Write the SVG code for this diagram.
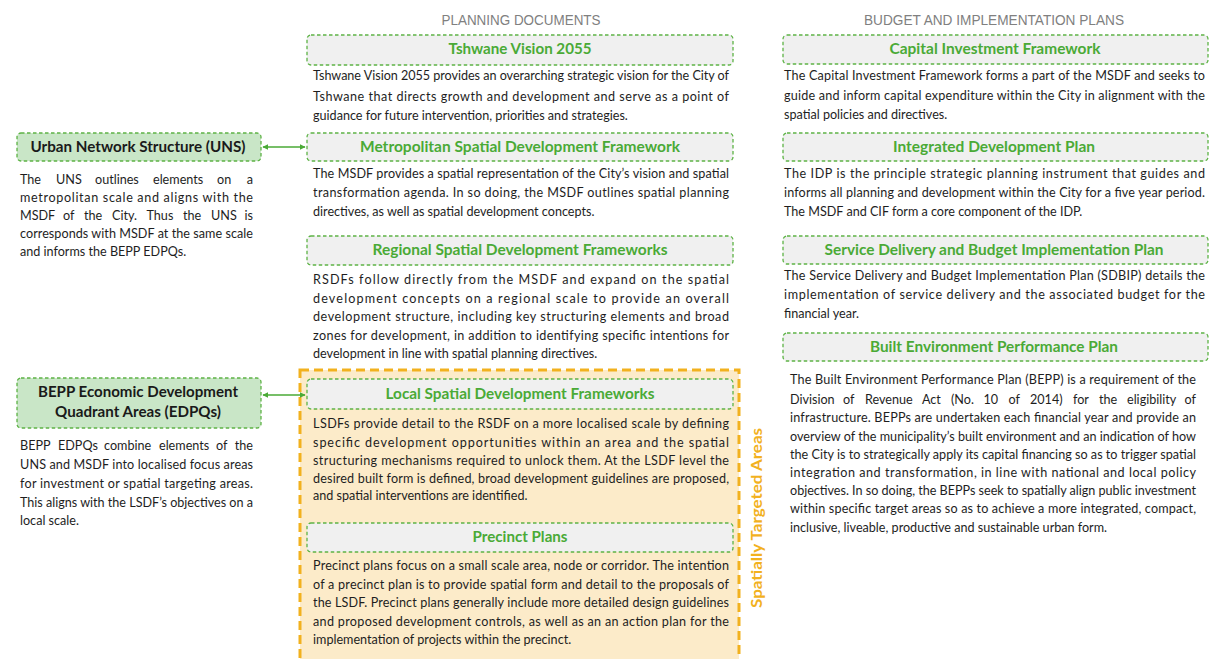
<svg xmlns="http://www.w3.org/2000/svg" width="1210" height="659" viewBox="0 0 1210 659">
<style>
.hdr{font-family:"Liberation Sans",Arial,sans-serif;font-size:14px;fill:#808080;text-anchor:middle}
.box{fill:#f0f0f0;stroke:#5db345;stroke-width:1.3;stroke-dasharray:3.5 2.5}
.gbox{fill:#c9e6c7;stroke:#5db345;stroke-width:1.3;stroke-dasharray:3.5 2.5}
.ttl{font-family:Lato,"Liberation Sans",sans-serif;font-weight:bold;font-size:14.5px;fill:#4aaa36;text-anchor:middle}
.ttd{font-family:Lato,"Liberation Sans",sans-serif;font-weight:bold;font-size:14.5px;fill:#1a1a1a;text-anchor:middle}
.bd{font-family:Lato,"Liberation Sans",sans-serif;font-size:12.6px;fill:#1e1e1e}
.e{text-anchor:end}
.conn{stroke:#4aaa36;stroke-width:1.6;fill:none}
</style>
<defs>
<marker id="ah" viewBox="0 0 10 10" refX="9" refY="5" markerWidth="6" markerHeight="6" orient="auto-start-reverse" markerUnits="userSpaceOnUse">
<path d="M0,0 L10,5 L0,10 z" fill="#4aaa36"/>
</marker>
</defs>

<text class="hdr" x="521" y="25" textLength="159" lengthAdjust="spacingAndGlyphs">PLANNING DOCUMENTS</text>
<text class="hdr" x="994" y="25" textLength="260" lengthAdjust="spacingAndGlyphs">BUDGET AND IMPLEMENTATION PLANS</text>

<g id="spatially-targeted-areas">
<rect x="300" y="370" width="439" height="300" fill="#fcebc9" stroke="#f2b11e" stroke-width="3" stroke-dasharray="9 5"/>
<text x="0" y="0" transform="translate(762,518) rotate(-90)" font-family="Lato,'Liberation Sans',sans-serif" font-weight="bold" font-size="14.5" fill="#f2b11e" text-anchor="middle" textLength="180" lengthAdjust="spacingAndGlyphs">Spatially Targeted Areas</text>
</g>

<g id="connectors">
<line class="conn" x1="263" y1="147" x2="305" y2="147" marker-start="url(#ah)" marker-end="url(#ah)"/>
<line class="conn" x1="263" y1="395" x2="305" y2="395" marker-start="url(#ah)" marker-end="url(#ah)"/>
</g>

<g id="uns">
<rect class="gbox" x="17" y="133" width="244" height="28" rx="4"/>
<text class="ttd" x="138" y="152" textLength="215" lengthAdjust="spacingAndGlyphs">Urban Network Structure (UNS)</text>
<text class="bd" y="184"><tspan x="20">The</tspan><tspan x="56">UNS</tspan><tspan x="95">outlines</tspan><tspan x="153">elements</tspan><tspan x="217">on</tspan></text>
<text class="bd e" x="253" y="184">a</text>
<text class="bd" x="20" y="202" textLength="233" lengthAdjust="spacing">metropolitan scale and aligns with the</text>
<text class="bd" y="220"><tspan x="20">MSDF</tspan><tspan x="63">of</tspan><tspan x="84">the</tspan><tspan x="112">City.</tspan><tspan x="146.5">Thus</tspan><tspan x="183">the</tspan><tspan x="211">UNS</tspan></text>
<text class="bd e" x="253" y="220">is</text>
<text class="bd" x="20" y="238" textLength="233" lengthAdjust="spacing">corresponds with MSDF at the same scale</text>
<text class="bd" x="20" y="256">and informs the BEPP EDPQs.</text>
</g>

<g id="edpq">
<rect class="gbox" x="17" y="378" width="244" height="50" rx="4"/>
<text class="ttd" x="138" y="397" textLength="200" lengthAdjust="spacingAndGlyphs">BEPP Economic Development</text>
<text class="ttd" x="138" y="417" textLength="166" lengthAdjust="spacingAndGlyphs">Quadrant Areas (EDPQs)</text>
<text class="bd" y="450"><tspan x="20">BEPP</tspan><tspan x="58">EDPQs</tspan><tspan x="104">combine</tspan><tspan x="159">elements</tspan><tspan x="216">of</tspan></text>
<text class="bd e" x="253" y="450">the</text>
<text class="bd" x="20" y="469" textLength="233" lengthAdjust="spacing">UNS and MSDF into localised focus areas</text>
<text class="bd" x="20" y="488" textLength="233" lengthAdjust="spacing">for investment or spatial targeting areas.</text>
<text class="bd" x="20" y="507" textLength="233" lengthAdjust="spacing">This aligns with the LSDF’s objectives on a</text>
<text class="bd" x="20" y="525">local scale.</text>
</g>

<g id="tshwane-vision">
<rect class="box" x="307" y="35" width="426" height="30" rx="4"/>
<text class="ttl" x="520" y="54" textLength="143" lengthAdjust="spacingAndGlyphs">Tshwane Vision 2055</text>
<text class="bd" x="313" y="80" textLength="416" lengthAdjust="spacing">Tshwane Vision 2055 provides an overarching strategic vision for the City of</text>
<text class="bd" x="313" y="101" textLength="416" lengthAdjust="spacing">Tshwane that directs growth and development and serve as a point of</text>
<text class="bd" x="313" y="120">guidance for future intervention, priorities and strategies.</text>
</g>

<g id="msdf">
<rect class="box" x="307" y="133" width="426" height="28" rx="4"/>
<text class="ttl" x="520" y="152" textLength="320" lengthAdjust="spacingAndGlyphs">Metropolitan Spatial Development Framework</text>
<text class="bd" x="313" y="178" textLength="416" lengthAdjust="spacing">The MSDF provides a spatial representation of the City’s vision and spatial</text>
<text class="bd" x="313" y="197" textLength="416" lengthAdjust="spacing">transformation agenda. In so doing, the MSDF outlines spatial planning</text>
<text class="bd" x="313" y="216">directives, as well as spatial development concepts.</text>
</g>

<g id="rsdf">
<rect class="box" x="307" y="236" width="426" height="29" rx="4"/>
<text class="ttl" x="520" y="255" textLength="295" lengthAdjust="spacingAndGlyphs">Regional Spatial Development Frameworks</text>
<text class="bd" x="313" y="284" textLength="416" lengthAdjust="spacing">RSDFs follow directly from the MSDF and expand on the spatial</text>
<text class="bd" x="313" y="303" textLength="416" lengthAdjust="spacing">development concepts on a regional scale to provide an overall</text>
<text class="bd" x="313" y="321" textLength="416" lengthAdjust="spacing">development structure, including key structuring elements and broad</text>
<text class="bd" x="313" y="340" textLength="416" lengthAdjust="spacing">zones for development, in addition to identifying specific intentions for</text>
<text class="bd" x="313" y="358">development in line with spatial planning directives.</text>
</g>

<g id="lsdf">
<rect class="box" x="307" y="379" width="426" height="30" rx="4"/>
<text class="ttl" x="520" y="399" textLength="269" lengthAdjust="spacingAndGlyphs">Local Spatial Development Frameworks</text>
<text class="bd" x="313" y="428" textLength="416" lengthAdjust="spacing">LSDFs provide detail to the RSDF on a more localised scale by defining</text>
<text class="bd" x="313" y="447" textLength="416" lengthAdjust="spacing">specific development opportunities within an area and the spatial</text>
<text class="bd" x="313" y="465" textLength="416" lengthAdjust="spacing">structuring mechanisms required to unlock them. At the LSDF level the</text>
<text class="bd" x="313" y="483" textLength="416" lengthAdjust="spacing">desired built form is defined, broad development guidelines are proposed,</text>
<text class="bd" x="313" y="500">and spatial interventions are identified.</text>
</g>

<g id="precinct-plans">
<rect class="box" x="307" y="523" width="426" height="29" rx="4"/>
<text class="ttl" x="520" y="542" textLength="95" lengthAdjust="spacingAndGlyphs">Precinct Plans</text>
<text class="bd" x="313" y="570" textLength="416" lengthAdjust="spacing">Precinct plans focus on a small scale area, node or corridor. The intention</text>
<text class="bd" x="313" y="589" textLength="416" lengthAdjust="spacing">of a precinct plan is to provide spatial form and detail to the proposals of</text>
<text class="bd" x="313" y="607" textLength="416" lengthAdjust="spacing">the LSDF. Precinct plans generally include more detailed design guidelines</text>
<text class="bd" x="313" y="626" textLength="416" lengthAdjust="spacing">and proposed development controls, as well as an an action plan for the</text>
<text class="bd" x="313" y="644">implementation of projects within the precinct.</text>
</g>

<g id="cif">
<rect class="box" x="783" y="35" width="425" height="29" rx="4"/>
<text class="ttl" x="995" y="54" textLength="211" lengthAdjust="spacingAndGlyphs">Capital Investment Framework</text>
<text class="bd" x="784" y="80" textLength="421" lengthAdjust="spacing">The Capital Investment Framework forms a part of the MSDF and seeks to</text>
<text class="bd" x="784" y="100" textLength="421" lengthAdjust="spacing">guide and inform capital expenditure within the City in alignment with the</text>
<text class="bd" x="784" y="119">spatial policies and directives.</text>
</g>

<g id="idp">
<rect class="box" x="783" y="133" width="425" height="28" rx="4"/>
<text class="ttl" x="994" y="152" textLength="202" lengthAdjust="spacingAndGlyphs">Integrated Development Plan</text>
<text class="bd" x="784" y="178" textLength="421" lengthAdjust="spacing">The IDP is the principle strategic planning instrument that guides and</text>
<text class="bd" x="784" y="197" textLength="421" lengthAdjust="spacing">informs all planning and development within the City for a five year period.</text>
<text class="bd" x="784" y="216">The MSDF and CIF form a core component of the IDP.</text>
</g>

<g id="sdbip">
<rect class="box" x="783" y="236" width="425" height="28" rx="4"/>
<text class="ttl" x="994" y="255" textLength="339" lengthAdjust="spacingAndGlyphs">Service Delivery and Budget Implementation Plan</text>
<text class="bd" x="784" y="280" textLength="421" lengthAdjust="spacing">The Service Delivery and Budget Implementation Plan (SDBIP) details the</text>
<text class="bd" x="784" y="299" textLength="421" lengthAdjust="spacing">implementation of service delivery and the associated budget for the</text>
<text class="bd" x="784" y="318">financial year.</text>
</g>

<g id="bepp">
<rect class="box" x="783" y="333" width="425" height="28" rx="4"/>
<text class="ttl" x="994" y="352" textLength="248" lengthAdjust="spacingAndGlyphs">Built Environment Performance Plan</text>
<text class="bd" x="790" y="384" textLength="406" lengthAdjust="spacing">The Built Environment Performance Plan (BEPP) is a requirement of the</text>
<text class="bd" y="404"><tspan x="790">Division</tspan><tspan x="843">of</tspan><tspan x="865">Revenue</tspan><tspan x="922">Act</tspan><tspan x="951">(No.</tspan><tspan x="983.5">10</tspan><tspan x="1008.5">of</tspan><tspan x="1030">2014)</tspan><tspan x="1073">for</tspan><tspan x="1099">the</tspan><tspan x="1127">eligibility</tspan></text>
<text class="bd e" x="1196" y="404">of</text>
<text class="bd" x="790" y="422" textLength="406" lengthAdjust="spacing">infrastructure. BEPPs are undertaken each financial year and provide an</text>
<text class="bd" x="790" y="441" textLength="406" lengthAdjust="spacing">overview of the municipality’s built environment and an indication of how</text>
<text class="bd" x="790" y="459" textLength="406" lengthAdjust="spacing">the City is to strategically apply its capital financing so as to trigger spatial</text>
<text class="bd" x="790" y="477" textLength="406" lengthAdjust="spacing">integration and transformation, in line with national and local policy</text>
<text class="bd" x="790" y="495" textLength="406" lengthAdjust="spacing">objectives. In so doing, the BEPPs seek to spatially align public investment</text>
<text class="bd" x="790" y="513" textLength="406" lengthAdjust="spacing">within specific target areas so as to achieve a more integrated, compact,</text>
<text class="bd" x="790" y="532">inclusive, liveable, productive and sustainable urban form.</text>
</g>
</svg>
